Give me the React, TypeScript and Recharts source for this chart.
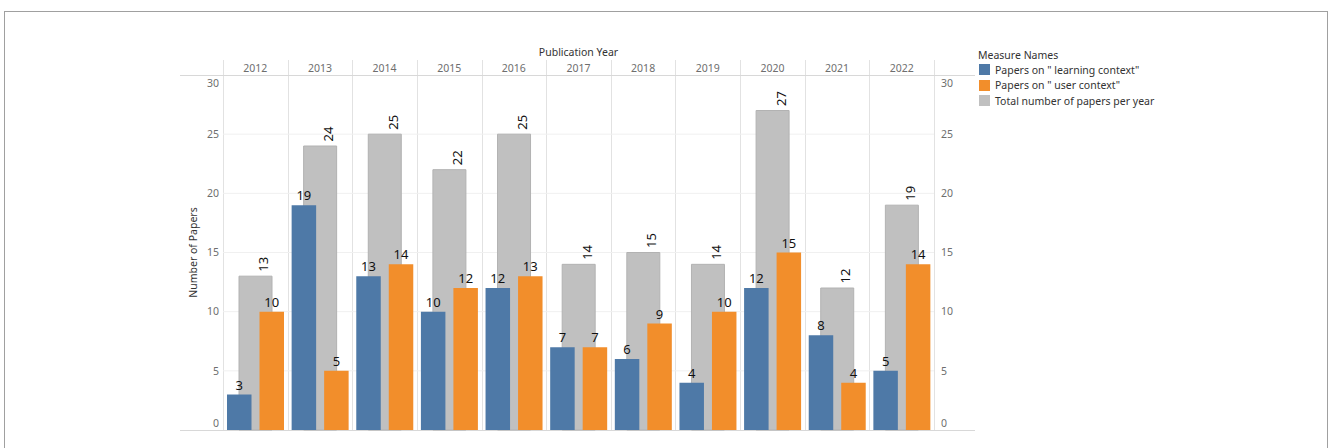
import { BarChart, Bar, XAxis, YAxis, CartesianGrid, LabelList } from "recharts"

const YEARS = ["2012", "2013", "2014", "2015", "2016", "2017", "2018", "2019", "2020", "2021", "2022"]
const LEARNING_CONTEXT = [3, 19, 13, 10, 12, 7, 6, 4, 12, 8, 5]
const USER_CONTEXT = [10, 5, 14, 12, 13, 7, 9, 10, 15, 4, 14]
const TOTAL_PAPERS = [13, 24, 25, 22, 25, 14, 15, 14, 27, 12, 19]
const Y_TICKS = [0, 5, 10, 15, 20, 25, 30]
const GRID_VALUES = [5, 10, 15, 20, 25]

const SERIES = [
  { key: "learning", name: 'Papers on " learning context"', color: "#4e79a7" },
  { key: "user", name: 'Papers on " user context"', color: "#f28e2b" },
  { key: "total", name: "Total number of papers per year", color: "#c0c0c0" },
]

const data = YEARS.map((year, i) => ({
  year,
  learning: LEARNING_CONTEXT[i],
  user: USER_CONTEXT[i],
  total: TOTAL_PAPERS[i],
}))

const FONT = "'Noto Sans', 'Open Sans', sans-serif"
const W = 1328
const H = 448

// layout: plot area spans x 223..934, y 75..430
const MARGIN = { top: 60, right: 353, bottom: 18, left: 180 }
const LEFT_AXIS_W = 43
const RIGHT_AXIS_W = 41
const HEADER_H = 15
const PLOT_LEFT = MARGIN.left + LEFT_AXIS_W
const PLOT_RIGHT = W - MARGIN.right - RIGHT_AXIS_W
const PLOT_TOP = MARGIN.top + HEADER_H
const PLOT_BOTTOM = H - MARGIN.bottom

// eslint-disable-next-line @typescript-eslint/no-explicit-any
function CountTick(props: any) {
  const { x, y, payload, textAnchor } = props
  const v = Number(payload.value)
  const shift = v === 30 ? 8 : v === 0 ? -6.5 : 0
  return (
    <text x={x} y={y + shift} dy="0.35em" textAnchor={textAnchor} fill="#6e6e6e" fontSize={10.5} fontFamily={FONT}>
      {v}
    </text>
  )
}

// eslint-disable-next-line @typescript-eslint/no-explicit-any
function TotalLabel(props: any) {
  const { x, y, width, value } = props
  const tx = Number(x) + Number(width) - 3.5
  const ty = Number(y) - 4.5
  return (
    <text x={tx} y={ty} transform={`rotate(-90 ${tx} ${ty})`} fill="#111" fontSize={13} fontFamily={FONT}>
      {value}
    </text>
  )
}

// Tableau-style panel separators and header rules
function PanelLines() {
  const step = (PLOT_RIGHT - PLOT_LEFT) / YEARS.length
  const xs = Array.from({ length: YEARS.length + 1 }, (_, i) => PLOT_LEFT + i * step)
  return (
    <svg width={W} height={H} style={{ position: "absolute", left: 0, top: 0 }}>
      {xs.map((x) => (
        <line key={x} x1={Math.round(x) + 0.5} x2={Math.round(x) + 0.5} y1={MARGIN.top} y2={PLOT_BOTTOM} stroke="#e2e2e2" />
      ))}
      <line x1={MARGIN.left} x2={PLOT_RIGHT + RIGHT_AXIS_W} y1={PLOT_TOP + 0.5} y2={PLOT_TOP + 0.5} stroke="#d8d8d8" />
      <line x1={MARGIN.left} x2={PLOT_RIGHT + RIGHT_AXIS_W} y1={PLOT_BOTTOM + 0.5} y2={PLOT_BOTTOM + 0.5} stroke="#d8d8d8" />
    </svg>
  )
}

function MeasureLegend() {
  return (
    <div style={{ position: "absolute", left: 978, top: 48, fontFamily: FONT, fontSize: 10.5, color: "#333" }}>
      <div style={{ height: 14, lineHeight: "14px" }}>Measure Names</div>
      {SERIES.map((s) => (
        <div key={s.key} style={{ display: "flex", alignItems: "center", height: 15.5 }}>
          <span style={{ width: 11, height: 11, marginLeft: 1, marginRight: 5, backgroundColor: s.color }} />
          <span style={{ whiteSpace: "pre" }}>{s.name}</span>
        </div>
      ))}
    </div>
  )
}

export default function App() {
  return (
    <div style={{ position: "absolute", left: 0, top: 0, width: W, height: H, overflow: "hidden", background: "#fff" }}>
      <div
        style={{
          position: "absolute",
          left: 4,
          top: 11,
          width: 1324,
          height: 500,
          boxSizing: "border-box",
          border: "1px solid #a0a0a0",
        }}
      />
      <PanelLines />
      <div style={{ position: "absolute", left: 0, top: 0 }}>
        <BarChart width={W} height={H} data={data} margin={MARGIN} barGap={8}>
          <CartesianGrid
            xAxisId="year"
            yAxisId="count"
            vertical={false}
            horizontalValues={GRID_VALUES}
            stroke="#f0f0f0"
          />
          <XAxis
            xAxisId="year"
            dataKey="year"
            orientation="top"
            height={HEADER_H}
            axisLine={false}
            tickLine={false}
            tickSize={0}
            tickMargin={3}
            interval={0}
            tick={{ fill: "#6e6e6e", fontSize: 10.5, fontFamily: FONT }}
            label={{ value: "Publication Year", position: "top", offset: 4, fill: "#333", fontSize: 10.5, fontFamily: FONT }}
          />
          <XAxis xAxisId="yearTotal" dataKey="year" hide />
          <YAxis
            yAxisId="count"
            width={LEFT_AXIS_W}
            domain={[0, 30]}
            ticks={Y_TICKS}
            axisLine={false}
            tickLine={false}
            tickSize={0}
            tickMargin={4}
            tick={CountTick}
            label={{
              value: "Number of Papers",
              angle: -90,
              position: "insideLeft",
              offset: 13,
              style: { textAnchor: "middle" },
              fill: "#333",
              fontSize: 10.5,
              fontFamily: FONT,
            }}
          />
          <YAxis
            yAxisId="countTotal"
            orientation="right"
            width={RIGHT_AXIS_W}
            domain={[0, 30]}
            ticks={Y_TICKS}
            axisLine={false}
            tickLine={false}
            tickSize={0}
            tickMargin={7}
            tick={CountTick}
          />
          <Bar
            xAxisId="yearTotal"
            yAxisId="countTotal"
            dataKey="total"
            name={SERIES[2].name}
            fill={SERIES[2].color}
            stroke="#b2b2b2"
            strokeWidth={1}
            barSize={33}
            isAnimationActive={false}
          >
            <LabelList dataKey="total" content={TotalLabel} />
          </Bar>
          <Bar
            xAxisId="year"
            yAxisId="count"
            dataKey="learning"
            name={SERIES[0].name}
            fill={SERIES[0].color}
            barSize={24.5}
            isAnimationActive={false}
          >
            <LabelList dataKey="learning" position="top" offset={5} fill="#111" fontSize={13} fontFamily={FONT} />
          </Bar>
          <Bar
            xAxisId="year"
            yAxisId="count"
            dataKey="user"
            name={SERIES[1].name}
            fill={SERIES[1].color}
            barSize={24.5}
            isAnimationActive={false}
          >
            <LabelList dataKey="user" position="top" offset={5} fill="#111" fontSize={13} fontFamily={FONT} />
          </Bar>
        </BarChart>
      </div>
      <MeasureLegend />
    </div>
  )
}
